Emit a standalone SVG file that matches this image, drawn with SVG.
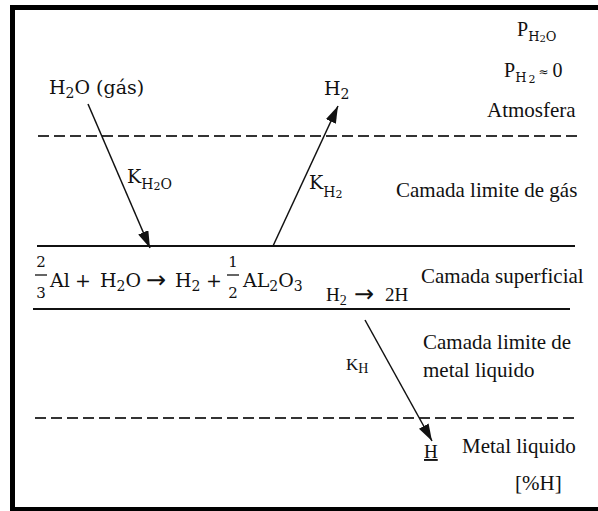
<svg xmlns="http://www.w3.org/2000/svg" width="598" height="511" viewBox="0 0 598 511">
<style>
  text { font-family: "Liberation Serif", "Times New Roman", serif; fill: #111; }
  .t21 { font-size: 21px; }
  .cm { font-family: "DejaVu Serif", serif; font-size: 19px; }
  .cs { font-size: 14px; }
  .frac { font-family: "DejaVu Serif", serif; font-size: 15px; text-anchor: middle; }
  .arr { font-family: "DejaVu Sans", sans-serif; }
  .solid { stroke: #111; stroke-width: 2.2; fill: none; }
  .bar { stroke: #111; stroke-width: 1.3; }
  .dash { stroke: #333; stroke-width: 2; stroke-dasharray: 11 5; fill: none; }
  .arrow { stroke: #111; stroke-width: 1.5; fill: none; marker-end: url(#ah); }
</style>
<defs>
  <marker id="ah" markerUnits="userSpaceOnUse" markerWidth="18" markerHeight="12" refX="17" refY="5.5" orient="auto">
    <path d="M0,0 L17,5.5 L0,11 z" fill="#111"/>
  </marker>
</defs>
<rect x="12.5" y="7.5" width="620" height="502" fill="#fff" stroke="#000" stroke-width="5"/>

<g id="layers">
  <line class="dash" x1="38" y1="136" x2="578" y2="136"/>
  <line class="solid" x1="37" y1="246" x2="575" y2="246"/>
  <line class="solid" x1="33" y1="309" x2="570" y2="309"/>
  <line class="dash" x1="35" y1="418" x2="574" y2="418"/>
</g>

<g id="connectors">
  <line class="arrow" x1="88" y1="104" x2="150" y2="248"/>
  <line class="arrow" x1="273" y1="246" x2="338" y2="106"/>
  <line class="arrow" x1="365" y1="320" x2="432" y2="441"/>
</g>

<g id="atmosphere">
  <text x="517" y="36" font-size="20">P<tspan dy="5" font-family="DejaVu Serif, serif" font-size="13">H</tspan><tspan dy="1" font-family="DejaVu Serif, serif" font-size="10">2</tspan><tspan dy="-1" font-family="DejaVu Serif, serif" font-size="13">O</tspan></text>
  <text x="504" y="77" font-size="20">P<tspan dy="5" font-family="DejaVu Serif, serif" font-size="13">H</tspan><tspan dx="2" dy="1" font-family="DejaVu Serif, serif" font-size="11">2</tspan><tspan dx="3" dy="-7" font-family="DejaVu Sans, sans-serif" font-size="12">≈</tspan><tspan dx="4" dy="1">0</tspan></text>
  <text class="t21" x="487" y="117">Atmosfera</text>
</g>

<g id="h2o-gas">
  <text class="cm" x="49" y="94">H<tspan class="cs" dy="4">2</tspan><tspan dy="-4">O (gás)</tspan></text>
</g>

<g id="h2-out">
  <text class="cm" x="324" y="95">H<tspan class="cs" dy="4">2</tspan></text>
</g>

<g id="k-h2o">
  <text class="cm" x="127" y="183">K<tspan dy="6" font-size="14">H</tspan><tspan dy="1" font-size="11">2</tspan><tspan dy="-1" font-size="14">O</tspan></text>
</g>

<g id="k-h2">
  <text class="cm" x="309" y="189">K<tspan dy="8" font-size="14">H</tspan><tspan dy="1" font-size="11">2</tspan></text>
</g>

<g id="gas-layer">
  <text class="t21" x="396" y="197">Camada limite de gás</text>
</g>

<g id="equation">
  <text class="frac" x="41" y="267">2</text>
  <line class="bar" x1="35" y1="275" x2="47" y2="275"/>
  <text class="frac" x="41" y="298">3</text>
  <text class="cm" y="287"><tspan x="50">Al</tspan><tspan x="75">+</tspan><tspan x="100">H</tspan><tspan class="cs" dy="4">2</tspan><tspan dy="-4">O</tspan></text>
  <text class="arr" x="146" y="288" font-size="24">→</text>
  <text class="cm" y="287"><tspan x="175">H</tspan><tspan class="cs" dy="4">2</tspan><tspan dy="-4" x="206">+</tspan></text>
  <text class="frac" x="233" y="267">1</text>
  <line class="bar" x1="227" y1="275" x2="239" y2="275"/>
  <text class="frac" x="233" y="298">2</text>
  <text class="cm" x="243" y="287">AL<tspan class="cs" dy="4">2</tspan><tspan dy="-4">O</tspan><tspan class="cs" dy="4">3</tspan></text>
</g>

<g id="surface-layer">
  <text class="t21" x="421" y="283">Camada superficial</text>
</g>

<g id="h2-dissociation">
  <text x="326" y="301" font-size="19">H<tspan font-size="14" dy="4">2</tspan></text>
  <text class="arr" x="354" y="302" font-size="24">→</text>
  <text x="385" y="301" font-size="19">2H</text>
</g>

<g id="k-h">
  <text x="346" y="370" font-size="17">K<tspan dy="3" font-size="14">H</tspan></text>
</g>

<g id="metal-boundary">
  <text class="t21" x="423" y="349">Camada limite de</text>
  <text class="t21" x="423" y="377">metal liquido</text>
</g>

<g id="metal-liquid">
  <text x="424" y="458" font-size="19" text-decoration="underline">H</text>
  <text class="t21" x="462" y="453">Metal liquido</text>
  <text class="t21" x="515" y="490">[%H]</text>
</g>
</svg>
